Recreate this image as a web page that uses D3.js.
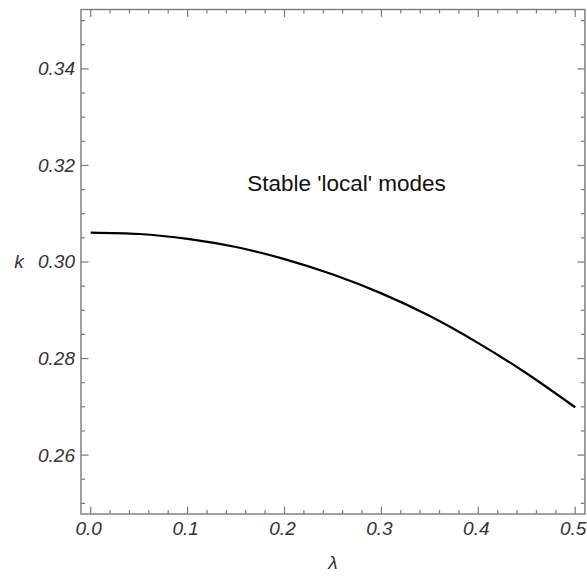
<!DOCTYPE html>
<html><head><meta charset="utf-8">
<script src="https://cdn.jsdelivr.net/npm/d3@7"></script>
<style>body{margin:0;background:#fff}svg{display:block}</style>
</head><body>
<script>
const lambdaVals = [0, 0.05, 0.10, 0.15, 0.20, 0.25, 0.30, 0.35, 0.40, 0.45, 0.50];
const kVals = [0.3061, 0.3058, 0.3048, 0.3031, 0.3006, 0.2974, 0.2935, 0.2888, 0.2832, 0.2769, 0.2699];
const xTickLabels = ["0.0", "0.1", "0.2", "0.3", "0.4", "0.5"];
const yTickLabels = ["0.26", "0.28", "0.30", "0.32", "0.34"];
const xDomain = [-0.01, 0.51];
const yDomain = [0.2478, 0.3523];
const annotation = "Stable 'local' modes";

const W = 587, H = 577;
const L = 81, R = 584.9, T = 9.5, B = 514;
const svg = d3.select("body").append("svg").attr("width", W).attr("height", H);
const x = d3.scaleLinear().domain(xDomain).range([L, R]);
const y = d3.scaleLinear().domain(yDomain).range([B, T]);

const frameColor = "#7a7a7a";
const font = "'Liberation Sans', Arial, sans-serif";

const xMajor = xTickLabels.map(Number);
const xMinor = d3.range(0, 51, 2).map(d => d / 100).filter(v => !xMajor.some(m => Math.abs(m - v) < 1e-9));
const yMajor = yTickLabels.map(Number);
const yMinor = d3.range(250, 352, 5).map(d => d / 1000).filter(v => !yMajor.some(m => Math.abs(m - v) < 1e-9));

const g = svg.append("g");
function xt(v, len) {
  g.append("line").attr("x1", x(v)).attr("x2", x(v)).attr("y1", B).attr("y2", B - len).attr("stroke", frameColor).attr("stroke-width", 1.2);
  g.append("line").attr("x1", x(v)).attr("x2", x(v)).attr("y1", T).attr("y2", T + len).attr("stroke", frameColor).attr("stroke-width", 1.2);
}
function yt(v, len) {
  g.append("line").attr("y1", y(v)).attr("y2", y(v)).attr("x1", L).attr("x2", L + len).attr("stroke", frameColor).attr("stroke-width", 1.2);
  g.append("line").attr("y1", y(v)).attr("y2", y(v)).attr("x1", R).attr("x2", R - len).attr("stroke", frameColor).attr("stroke-width", 1.2);
}
xMajor.forEach(v => xt(v, 7.5));
xMinor.forEach(v => xt(v, 4));
yMajor.forEach(v => yt(v, 7.5));
yMinor.forEach(v => yt(v, 4));

svg.append("rect").attr("x", L).attr("y", T).attr("width", R - L).attr("height", B - T)
  .attr("fill", "none").attr("stroke", frameColor).attr("stroke-width", 1.4);

svg.selectAll(".xl").data(xTickLabels).enter().append("text")
  .attr("x", d => x(+d) - 2).attr("y", 535)
  .attr("text-anchor", "middle").attr("font-family", font).attr("font-style", "italic")
  .attr("font-size", 19).attr("fill", "#333").text(d => d);
svg.selectAll(".yl").data(yTickLabels).enter().append("text")
  .attr("x", 75).attr("y", d => y(+d) + 6.5)
  .attr("text-anchor", "end").attr("font-family", font).attr("font-style", "italic")
  .attr("font-size", 19).attr("fill", "#333").text(d => d);

svg.append("text").attr("x", 19).attr("y", 268).attr("text-anchor", "middle")
  .attr("font-family", font).attr("font-style", "italic").attr("font-size", 19).attr("fill", "#333").text("k");
svg.append("text").attr("x", 333).attr("y", 569).attr("text-anchor", "middle")
  .attr("font-family", font).attr("font-style", "italic").attr("font-size", 19).attr("fill", "#333").text("λ");

const pts = lambdaVals.map((l, i) => [l, kVals[i]]);
svg.append("path").datum(pts)
  .attr("d", d3.line().x(d => x(d[0])).y(d => y(d[1])).curve(d3.curveNatural))
  .attr("fill", "none").attr("stroke", "#000").attr("stroke-width", 2.2);

svg.append("text").attr("x", 346.5).attr("y", 191).attr("text-anchor", "middle")
  .attr("font-family", font).attr("font-size", 22.5).attr("fill", "#111").text(annotation);
</script>
</body></html>
